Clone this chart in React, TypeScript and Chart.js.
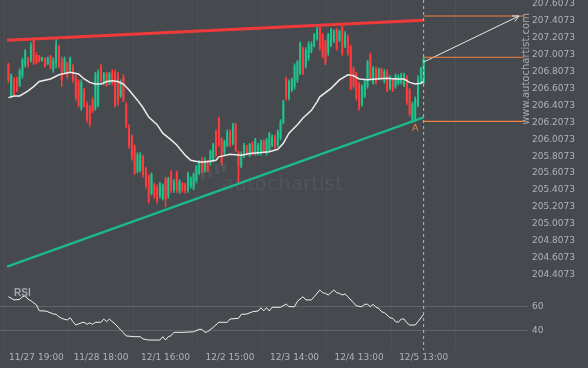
import { useEffect, useRef } from "react";
import { Chart, registerables } from "chart.js";

Chart.register(...registerables);

// ---- categories / ticks ----
const tickIndices = [10, 33, 56, 79, 102, 125, 148];
const tickLabels = ["11/27 19:00", "11/28 18:00", "12/1 16:00", "12/2 15:00", "12/3 14:00", "12/4 13:00", "12/5 13:00"];
const priceTicks = [207.6073, 207.4073, 207.2073, 207.0073, 206.8073, 206.6073, 206.4073, 206.2073, 206.0073, 205.8073, 205.6073, 205.4073, 205.2073, 205.0073, 204.8073, 204.6073, 204.4073];
const rsiTicks = [40, 60];

// ---- hourly candles ----
const opens = [
  206.89, 206.53, 206.72, 206.72, 206.65, 206.76, 206.89, 206.96, 206.94, 207.17,
  207.00, 206.99, 206.94, 206.96, 206.90, 206.98, 206.83, 206.90, 207.10, 206.92,
  206.81, 206.90, 206.83, 206.86, 206.74, 206.68, 206.38, 206.59, 206.42, 206.39,
  206.47, 206.38, 206.41, 206.86, 206.67, 206.78, 206.67, 206.80, 206.80, 206.78,
  206.52, 206.74, 206.41, 206.15, 206.03, 205.92, 205.63, 205.64, 205.80, 205.66,
  205.56, 205.37, 205.47, 205.44, 205.34, 205.31, 205.53, 205.34, 205.62, 205.41,
  205.61, 205.40, 205.48, 205.47, 205.41, 205.46, 205.43, 205.53, 205.61, 205.76,
  205.64, 205.74, 205.73, 205.76, 206.09, 206.25, 206.01, 205.85, 205.94, 206.09,
  205.96, 206.18, 205.85, 205.69, 205.81, 205.92, 205.82, 205.95, 205.85, 205.85,
  205.85, 205.98, 205.85, 205.88, 205.94, 206.03, 205.94, 206.02, 206.21, 206.72,
  206.50, 206.59, 206.63, 206.71, 206.79, 207.07, 206.87, 206.97, 207.05, 207.12,
  207.20, 207.33, 207.24, 207.16, 207.03, 207.12, 207.17, 207.30, 207.18, 207.33,
  207.11, 207.22, 207.10, 206.84, 206.78, 206.66, 206.42, 206.52, 206.64, 207.00,
  206.68, 206.84, 206.73, 206.83, 206.70, 206.80, 206.61, 206.71, 206.64, 206.67,
  206.68, 206.65, 206.73, 206.59, 206.24, 206.25, 206.41, 206.68, 206.68,
];
const highs = [
  206.91, 206.78, 206.74, 206.74, 206.84, 206.97, 207.07, 206.98, 207.15, 207.19,
  207.03, 207.00, 206.98, 206.97, 206.98, 207.00, 206.97, 207.20, 207.12, 206.98,
  206.98, 206.92, 206.98, 206.89, 206.77, 206.71, 206.71, 206.61, 206.45, 206.41,
  206.50, 206.80, 206.83, 206.89, 206.80, 206.80, 206.80, 206.83, 206.83, 206.80,
  206.71, 206.77, 206.44, 206.18, 206.06, 205.94, 205.85, 205.85, 205.82, 205.68,
  205.59, 205.61, 205.49, 205.47, 205.50, 205.48, 205.56, 205.56, 205.64, 205.53,
  205.63, 205.53, 205.50, 205.49, 205.62, 205.56, 205.61, 205.70, 205.76, 205.79,
  205.79, 205.76, 205.88, 205.96, 206.12, 206.27, 206.03, 206.00, 206.12, 206.12,
  206.20, 206.20, 205.87, 205.86, 205.96, 205.94, 205.96, 205.98, 206.02, 205.96,
  206.00, 206.00, 206.02, 206.09, 206.06, 206.06, 206.12, 206.24, 206.47, 206.74,
  206.71, 206.73, 206.90, 206.94, 207.16, 207.10, 207.09, 207.16, 207.16, 207.26,
  207.33, 207.36, 207.26, 207.18, 207.26, 207.32, 207.30, 207.32, 207.30, 207.36,
  207.28, 207.24, 207.12, 206.86, 206.80, 206.68, 206.65, 206.71, 206.94, 207.03,
  206.87, 206.86, 206.85, 206.85, 206.83, 206.83, 206.76, 206.73, 206.78, 206.77,
  206.79, 206.79, 206.76, 206.61, 206.45, 206.51, 206.76, 206.86, 206.98,
];
const lows = [
  206.68, 206.51, 206.51, 206.57, 206.63, 206.73, 206.86, 206.86, 206.92, 206.89,
  206.90, 206.92, 206.93, 206.86, 206.89, 206.84, 206.80, 206.85, 206.85, 206.63,
  206.79, 206.73, 206.80, 206.68, 206.47, 206.39, 206.35, 206.39, 206.21, 206.16,
  206.32, 206.35, 206.39, 206.68, 206.65, 206.63, 206.65, 206.65, 206.39, 206.41,
  206.50, 206.45, 206.14, 205.90, 205.76, 205.59, 205.61, 205.62, 205.56, 205.43,
  205.25, 205.35, 205.31, 205.25, 205.31, 205.29, 205.21, 205.31, 205.38, 205.38,
  205.38, 205.37, 205.38, 205.37, 205.38, 205.43, 205.41, 205.50, 205.59, 205.61,
  205.62, 205.62, 205.70, 205.74, 205.80, 205.92, 205.70, 205.82, 205.92, 205.92,
  205.94, 205.86, 205.50, 205.67, 205.79, 205.82, 205.80, 205.82, 205.82, 205.82,
  205.82, 205.86, 205.82, 205.86, 205.92, 205.90, 205.92, 206.00, 206.19, 206.47,
  206.47, 206.57, 206.60, 206.68, 206.77, 206.77, 206.85, 206.94, 207.03, 207.10,
  207.18, 207.06, 206.97, 206.89, 207.00, 207.10, 207.15, 207.06, 207.16, 207.00,
  207.09, 207.00, 206.59, 206.61, 206.47, 206.35, 206.40, 206.50, 206.61, 206.71,
  206.66, 206.66, 206.71, 206.71, 206.67, 206.57, 206.59, 206.57, 206.61, 206.65,
  206.66, 206.63, 206.42, 206.28, 206.21, 206.22, 206.39, 206.66, 206.66,
];
const closes = [
  206.71, 206.76, 206.53, 206.59, 206.81, 206.94, 207.05, 206.89, 207.12, 206.91,
  206.92, 206.93, 206.97, 206.87, 206.97, 206.86, 206.94, 207.12, 206.87, 206.71,
  206.96, 206.76, 206.96, 206.71, 206.50, 206.41, 206.68, 206.41, 206.24, 206.19,
  206.34, 206.78, 206.80, 206.71, 206.78, 206.65, 206.78, 206.67, 206.41, 206.44,
  206.68, 206.47, 206.16, 205.93, 205.79, 205.61, 205.82, 205.82, 205.59, 205.46,
  205.28, 205.59, 205.34, 205.28, 205.48, 205.46, 205.30, 205.54, 205.41, 205.50,
  205.41, 205.50, 205.41, 205.40, 205.60, 205.54, 205.59, 205.68, 205.74, 205.63,
  205.76, 205.64, 205.86, 205.94, 205.82, 205.94, 205.73, 205.98, 206.09, 205.94,
  206.18, 205.88, 205.70, 205.83, 205.94, 205.85, 205.94, 205.85, 206.00, 205.94,
  205.98, 205.88, 206.00, 206.07, 206.03, 205.93, 206.09, 206.21, 206.45, 206.50,
  206.68, 206.71, 206.87, 206.92, 207.13, 206.79, 207.06, 207.13, 207.13, 207.24,
  207.31, 207.09, 206.99, 206.91, 207.24, 207.30, 207.28, 207.09, 207.28, 207.03,
  207.25, 207.03, 206.61, 206.64, 206.50, 206.38, 206.63, 206.68, 206.92, 206.73,
  206.85, 206.68, 206.83, 206.73, 206.80, 206.59, 206.73, 206.59, 206.76, 206.74,
  206.77, 206.77, 206.45, 206.31, 206.42, 206.48, 206.73, 206.84, 206.96,
];

// ---- moving average [index, price] ----
const maPoints = [
  [0, 206.5], [2, 206.52], [4, 206.52], [7, 206.58], [9, 206.63], [11, 206.69], [15, 206.72], [18, 206.77],
  [22, 206.8], [25, 206.78], [27, 206.72], [29, 206.68], [31, 206.66], [33, 206.66], [35, 206.69], [37, 206.7],
  [39, 206.69], [41, 206.66], [43, 206.59], [46, 206.47], [48, 206.38], [50, 206.27], [53, 206.18], [55, 206.08],
  [58, 206.0], [60, 205.94], [63, 205.82], [65, 205.76], [68, 205.74], [70, 205.74], [74, 205.76], [75, 205.8],
  [79, 205.83], [83, 205.82], [86, 205.84], [90, 205.85], [93, 205.86], [96, 205.89], [98, 205.96], [100, 206.08],
  [103, 206.18], [105, 206.26], [108, 206.35], [110, 206.45], [111, 206.51], [115, 206.61], [118, 206.71], [121, 206.77],
  [123, 206.76], [125, 206.72], [128, 206.71], [131, 206.72], [135, 206.73], [138, 206.72], [141, 206.72], [143, 206.68],
  [145, 206.66], [147, 206.67], [148, 206.69],
];

// ---- RSI [index, value] ----
const rsiPoints = [
  [0, 68], [1, 66.7], [2, 65.3], [4, 65.8], [5, 68], [6, 68.8], [7, 65.8], [8, 64.7], [10, 61.1], [11, 56.3],
  [13, 56.1], [14, 55.5], [16, 53.6], [17, 53.3], [18, 51.3], [19, 50], [20, 49.2], [21, 48.6], [22, 50.5], [23, 47.2],
  [24, 44.4], [26, 46.3], [27, 46.7], [28, 45], [29, 46.3], [30, 45], [31, 46.7], [33, 46.7], [34, 49.4], [35, 47.2],
  [36, 49.4], [38, 45.3], [40, 40.3], [41, 38], [42, 35.3], [45, 34.7], [47, 34.7], [48, 32.8], [50, 31.9], [53, 31.9],
  [54, 31.9], [55, 34.7], [56, 31.9], [57, 34.7], [58, 35.5], [59, 38.3], [62, 38.3], [66, 38.8], [68, 40.8], [69, 40.8],
  [70, 38.3], [71, 38.8], [73, 42.5], [75, 46.7], [78, 46.7], [79, 49.4], [82, 50], [83, 53.3], [85, 53.6], [87, 55.5],
  [89, 56.1], [90, 58.8], [91, 56.3], [92, 58.8], [93, 56.1], [94, 59.2], [97, 59.2], [99, 61.9], [100, 59.7], [102, 59.7],
  [103, 64.2], [105, 68], [106, 65.3], [108, 65.3], [109, 68], [111, 73.6], [112, 71.3], [113, 70.8], [114, 69.4], [116, 73.6],
  [117, 71.3], [118, 70.8], [119, 69.4], [120, 70.3], [121, 68], [123, 63], [124, 60.3], [126, 59.7], [127, 61.7], [128, 61.7],
  [129, 59.7], [130, 61.7], [131, 59.2], [132, 58.3], [133, 55.5], [134, 54.7], [136, 50.5], [137, 50], [138, 47.2], [139, 46.7],
  [140, 49.4], [141, 49.4], [142, 46.3], [143, 44.4], [145, 44.4], [146, 47.2], [148, 53.3],
];

// ---- pattern lines ----
const resistanceLine = [[-0.5, 207.178], [148, 207.414]];
const supportLine = [[-0.5, 204.502], [148, 206.267]];
const levelRange = [148, 183.9];
const levelPrices = [207.465, 206.977, 206.22];
const projectionLine = [[148, 206.921], [182, 207.465]];
const currentIndex = 148;
const patternIndex = 145;

const priceMin = 204.3205;
const priceMax = 207.654;
const rsiMin = 23.6;
const rsiMax = 80.25;
const xMin = -3;
const xMax = 185.2;

const BG = "#46494e";
const GREEN = "#1ec48c";
const RED = "#ff3d3d";
const ORANGE = "#f2843e";
const TICK = "#b0b3b7";
const FONT = "'DejaVu Sans', sans-serif";

const pts = (arr: number[][]) => arr.map(([x, y]) => ({ x, y }));

const overlayPlugin = {
  id: "overlay",
  beforeDatasetsDraw(chart: any) {
    const { ctx, chartArea } = chart;
    ctx.save();
    ctx.fillStyle = "rgba(255,255,255,0.06)";
    const logo = [
      [188, 176, 4, 9], [194, 170, 4, 14], [201, 168, 4, 12], [208, 169, 4, 8],
      [215, 164, 4, 10], [222, 163, 4, 9],
    ];
    for (const [x, y, w, h] of logo) ctx.fillRect(chartArea.left + x, chartArea.top + y, w, h);
    ctx.font = `20px ${FONT}`;
    ctx.textBaseline = "alphabetic";
    ctx.fillText("autochartist", chartArea.left + 222, chartArea.top + 190);
    ctx.restore();
  },
  afterDatasetsDraw(chart: any) {
    const { ctx, scales } = chart;
    const xs = scales.x;
    const ys = scales.y;
    const [p0, p1] = projectionLine;
    const x0 = xs.getPixelForValue(p0[0]);
    const y0 = ys.getPixelForValue(p0[1]);
    const x1 = xs.getPixelForValue(p1[0]);
    const y1 = ys.getPixelForValue(p1[1]);
    const ang = Math.atan2(y1 - y0, x1 - x0);
    const len = 7;
    ctx.save();
    ctx.strokeStyle = "#e8e8e8";
    ctx.lineWidth = 1;
    ctx.beginPath();
    ctx.moveTo(x1 - len * Math.cos(ang - 0.45), y1 - len * Math.sin(ang - 0.45));
    ctx.lineTo(x1, y1);
    ctx.lineTo(x1 - len * Math.cos(ang + 0.45), y1 - len * Math.sin(ang + 0.45));
    ctx.stroke();
    ctx.fillStyle = ORANGE;
    ctx.font = `9.5px ${FONT}`;
    ctx.textAlign = "center";
    ctx.textBaseline = "middle";
    ctx.fillText("A", xs.getPixelForValue(patternIndex), ys.getPixelForValue(lows[patternIndex]) + 7);
    ctx.restore();
  },
  afterDraw(chart: any) {
    const { ctx, chartArea, scales } = chart;
    ctx.save();
    ctx.fillStyle = "#a6a9ad";
    ctx.font = `10px ${FONT}`;
    ctx.textAlign = "center";
    ctx.textBaseline = "alphabetic";
    ctx.translate(chartArea.right + 0.5, chartArea.top + 69);
    ctx.rotate(-Math.PI / 2);
    ctx.fillText("www.autochartist.com", 0, 0);
    ctx.restore();
    ctx.save();
    ctx.fillStyle = "#a3a7ab";
    ctx.font = `bold 10px 'Liberation Sans', sans-serif`;
    ctx.textBaseline = "alphabetic";
    ctx.fillText("RSI", chartArea.left + 14, scales.rsi.top + 14);
    ctx.restore();
  },
};

export default function App() {
  const ref = useRef<HTMLCanvasElement | null>(null);
  useEffect(() => {
    if (!ref.current) return;
    const candleColors = closes.map((c, i) => (c >= opens[i] ? GREEN : RED));
    const lineBase = { type: "line" as const, pointRadius: 0, fill: false, tension: 0, xAxisID: "x" };
    const datasets: any[] = [
      { ...lineBase, data: [{ x: currentIndex, y: priceMax }, { x: currentIndex, y: priceMin }], yAxisID: "y", borderColor: "rgba(205,205,205,0.85)", borderWidth: 1, borderDash: [3, 3], order: 0 },
      { ...lineBase, data: [{ x: currentIndex, y: rsiMax }, { x: currentIndex, y: rsiMin }], yAxisID: "rsi", borderColor: "rgba(205,205,205,0.85)", borderWidth: 1, borderDash: [3, 3], order: 0 },
      ...levelPrices.map((p) => ({ ...lineBase, data: [{ x: levelRange[0], y: p }, { x: levelRange[1], y: p }], yAxisID: "y", borderColor: ORANGE, borderWidth: 1.2, order: 0 })),
      { ...lineBase, data: pts(projectionLine), yAxisID: "y", borderColor: "#e8e8e8", borderWidth: 1, order: 0 },
      { ...lineBase, data: pts(resistanceLine), yAxisID: "y", borderColor: "#f03a3a", borderWidth: 3, order: 1 },
      { ...lineBase, data: pts(supportLine), yAxisID: "y", borderColor: "#1cb98a", borderWidth: 2.5, order: 1 },
      { ...lineBase, data: pts(maPoints), yAxisID: "y", borderColor: "#ececec", borderWidth: 1.5, order: 2 },
      { ...lineBase, data: pts(rsiPoints), yAxisID: "rsi", borderColor: "#f0f0f0", borderWidth: 1, order: 2 },
      {
        type: "bar", data: closes.map((c, i) => ({ x: i, y: [opens[i], c] })), yAxisID: "y", xAxisID: "x",
        backgroundColor: candleColors, borderWidth: 0, barThickness: 1.3, grouped: false, order: 3,
      },
      {
        type: "bar", data: highs.map((h, i) => ({ x: i, y: [lows[i], h] })), yAxisID: "y", xAxisID: "x",
        backgroundColor: candleColors, borderWidth: 0, barThickness: 0.9, grouped: false, order: 4,
      },
    ];
    const chart = new Chart(ref.current, {
      type: "bar",
      data: { datasets },
      plugins: [overlayPlugin],
      options: {
        animation: false,
        responsive: true,
        maintainAspectRatio: false,
        devicePixelRatio: 1,
        layout: { padding: 0 },
        plugins: { legend: { display: false }, tooltip: { enabled: false } },
        scales: {
          x: {
            type: "linear", min: xMin, max: xMax, offset: false, position: "bottom",
            grid: { color: "rgba(255,255,255,0.035)", drawTicks: false },
            border: { display: false },
            afterBuildTicks: (s: any) => { s.ticks = tickIndices.map((v) => ({ value: v })); },
            afterFit: (s: any) => { s.height = 18; s.paddingLeft = 0; s.paddingRight = 0; },
            ticks: {
              autoSkip: false, maxRotation: 0, padding: 2, color: TICK, font: { family: FONT, size: 9 },
              callback: (v: any) => tickLabels[tickIndices.indexOf(Number(v))] ?? "",
            },
          },
          y: {
            type: "linear", position: "right", stack: "panes", stackWeight: 282, min: priceMin, max: priceMax,
            grid: { display: false, drawTicks: false },
            border: { display: false },
            afterBuildTicks: (s: any) => { s.ticks = priceTicks.map((v) => ({ value: v })); },
            afterFit: (s: any) => { s.width = 60; s.paddingTop = 0; s.paddingBottom = 0; },
            ticks: { autoSkip: false, padding: 4, color: TICK, font: { family: FONT, size: 9 }, callback: (v: any) => Number(v).toFixed(4) },
          },
          rsi: {
            type: "linear", position: "right", stack: "panes", stackWeight: 68, min: rsiMin, max: rsiMax,
            grid: { color: "rgba(255,255,255,0.14)", drawTicks: false },
            border: { display: false },
            afterBuildTicks: (s: any) => { s.ticks = rsiTicks.map((v) => ({ value: v })); },
            afterFit: (s: any) => { s.width = 60; s.paddingTop = 0; s.paddingBottom = 0; },
            ticks: { autoSkip: false, padding: 4, color: TICK, font: { family: FONT, size: 9 }, callback: (v: any) => String(v) },
          },
        },
      } as any,
    });
    return () => chart.destroy();
  }, []);
  return (
    <div style={{ position: "fixed", left: 0, top: 0, width: 588, height: 368, background: BG }}>
      <canvas ref={ref} />
    </div>
  );
}
